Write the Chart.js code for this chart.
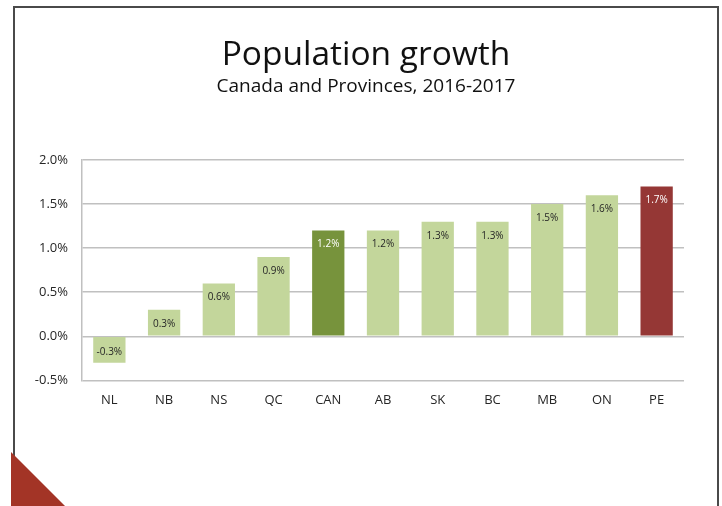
<!DOCTYPE html>
<html>
<head>
<meta charset="utf-8">
<script src="https://cdn.jsdelivr.net/npm/chart.js@4.4.1/dist/chart.umd.min.js"></script>
<style>
    html, body { margin: 0; padding: 0; background: #ffffff; }
    #slide { position: relative; width: 722px; height: 506px; overflow: hidden; }
    /* slide frame: heavy top/left/right, thin bottom */
    #frame {
        position: absolute;
        left: 13px; top: 6px;
        width: 702px; height: 498px;
        border-top: 2px solid #4a4a4a;
        border-left: 2px solid #4a4a4a;
        border-right: 2px solid #4a4a4a;
        border-bottom: 1px solid #8a8a8a;
    }
    /* red corner accent */
    #corner {
        position: absolute;
        left: 11px; top: 452px;
        width: 54px; height: 54px;
        background: #a33426;
        clip-path: polygon(0 0, 0 100%, 100% 100%);
    }
    #chart { position: absolute; left: 0; top: 0; }
</style>
</head>
<body>
<div id="slide">
    <div id="frame"></div>
    <div id="corner"></div>
    <canvas id="chart" width="722" height="506"></canvas>
</div>
<script>
// Population growth by province, 2016-2017 (percent)
const regions = ['NL', 'NB', 'NS', 'QC', 'CAN', 'AB', 'SK', 'BC', 'MB', 'ON', 'PE'];
const growth = [-0.3, 0.3, 0.6, 0.9, 1.2, 1.2, 1.3, 1.3, 1.5, 1.6, 1.7];
const yTicks = [-0.5, 0.0, 0.5, 1.0, 1.5, 2.0];

const LIGHT_GREEN = '#c3d69b';
const DARK_GREEN = '#77933c';
const DARK_RED = '#953735';

// Canada as a whole and the top province get their own colours
function barColor(region, i) {
    if (region === 'CAN') return DARK_GREEN;
    if (growth[i] === Math.max(...growth)) return DARK_RED;
    return LIGHT_GREEN;
}

const barColors = regions.map(barColor);
const labelColors = barColors.map(c => (c === LIGHT_GREEN ? '#262626' : '#ffffff'));

/**
 * Write the value inside the end of every bar
 */
const valueLabels = {
    id: 'valueLabels',
    afterDatasetsDraw(chart) {
        const ctx = chart.ctx;
        const meta = chart.getDatasetMeta(0);
        ctx.save();
        ctx.font = '10px "Open Sans"';
        ctx.textAlign = 'center';
        ctx.textBaseline = 'middle';
        meta.data.forEach((bar, i) => {
            const v = growth[i];
            const y = v >= 0 ? bar.y + 14 : bar.y - 11;
            ctx.fillStyle = labelColors[i];
            ctx.fillText(v.toFixed(1) + '%', bar.x, y);
        });
        ctx.restore();
    }
};

/**
 * Centre title + subtitle on the slide rather than on the padded canvas
 */
const TITLE_SHIFT = 24;
const titleShift = {
    id: 'titleShift',
    afterLayout(chart) {
        chart.boxes.forEach(box => {
            if (box.position === 'top' && box.options && box.options.text !== undefined) {
                box.left += TITLE_SHIFT;
                box.right += TITLE_SHIFT;
            }
        });
    }
};

const ctx = document.getElementById('chart').getContext('2d');

new Chart(ctx, {
    type: 'bar',
    data: {
        labels: regions,
        datasets: [{
            data: growth,
            backgroundColor: barColors,
            borderWidth: 0,
            barPercentage: 0.59,
            categoryPercentage: 1.0
        }]
    },
    options: {
        responsive: false,
        animation: false,
        layout: {
            padding: { top: 35, right: 38, bottom: 86, left: 0 }
        },
        plugins: {
            legend: { display: false },
            tooltip: { enabled: false },
            title: {
                display: true,
                text: 'Population growth',
                color: '#111111',
                font: { family: 'Open Sans', size: 33.5, weight: 'normal', lineHeight: 1.2 },
                padding: { top: 0, bottom: 0 }
            },
            subtitle: {
                display: true,
                text: 'Canada and Provinces, 2016-2017',
                color: '#111111',
                font: { family: 'Open Sans', size: 19, weight: 'normal', lineHeight: 1.2 },
                padding: { top: 0, bottom: 62 }
            }
        },
        scales: {
            x: {
                grid: { display: false, drawTicks: false },
                border: { display: false },
                ticks: {
                    color: '#262626',
                    padding: 12,
                    font: { family: 'Open Sans', size: 13 }
                }
            },
            y: {
                min: yTicks[0],
                max: yTicks[yTicks.length - 1],
                afterBuildTicks(scale) {
                    scale.ticks = yTicks.map(v => ({ value: v }));
                },
                afterFit(scale) {
                    scale.width = 82;
                },
                grid: {
                    color: '#c0c0c0',
                    lineWidth: 1.5,
                    drawTicks: false
                },
                border: { display: true, color: '#c0c0c0', width: 1.5 },
                ticks: {
                    color: '#262626',
                    padding: 14,
                    font: { family: 'Open Sans', size: 13 },
                    callback: v => v.toFixed(1) + '%'
                }
            }
        }
    },
    plugins: [valueLabels, titleShift]
});
</script>
</body>
</html>
